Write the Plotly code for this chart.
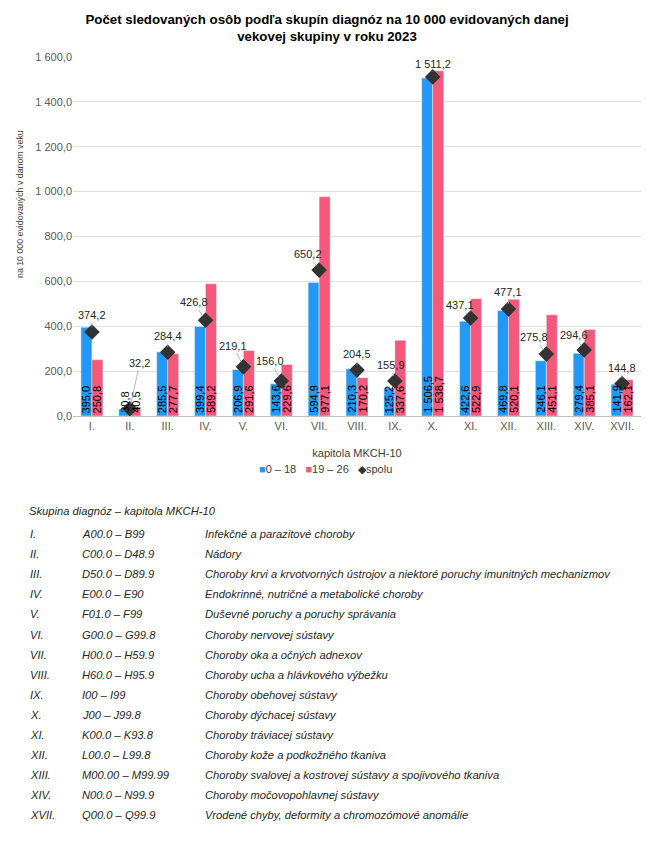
import plotly.graph_objects as go

categories = ["I.", "II.", "III.", "IV.", "V.", "VI.", "VII.", "VIII.", "IX.", "X.",
              "XI.", "XII.", "XIII.", "XIV.", "XVII."]
age_0_18 = [395.0, 30.8, 285.5, 399.4, 206.9, 143.6, 594.9, 210.3, 125.2, 1506.5,
            422.6, 469.8, 246.1, 279.4, 141.9]
age_19_26 = [250.8, 40.5, 277.7, 589.2, 291.6, 229.6, 977.1, 170.2, 337.6, 1538.7,
             522.9, 520.1, 451.1, 385.1, 162.1]
spolu = [374.2, 32.2, 284.4, 426.8, 219.1, 156.0, 650.2, 204.5, 155.9, 1511.2,
         437.1, 477.1, 275.8, 294.6, 144.8]
series_names = ["0 – 18", "19 – 26", "spolu"]

# label offsets (pixels) for "spolu" labels
label_dx = [0, 10, 0, -12, -10, -11, -11, 0, -4, 0, -11, 0, -12, -10, 0]
label_dy = [-17, -46, -16, -18, -21, -20, -16, -16, -16, -13, -13, -17, -17, -15, -16]

table_roman = ["I.", "II.", "III.", "IV.", "V.", "VI.", "VII.", "VIII.", "IX.", "X.",
               "XI.", "XII.", "XIII.", "XIV.", "XVII."]
table_codes = ["A00.0 – B99", "C00.0 – D48.9", "D50.0 – D89.9", "E00.0 – E90", "F01.0 – F99",
               "G00.0 – G99.8", "H00.0 – H59.9", "H60.0 – H95.9", "I00 – I99", "J00 – J99.8",
               "K00.0 – K93.8", "L00.0 – L99.8", "M00.00 – M99.99", "N00.0 – N99.9",
               "Q00.0 – Q99.9"]
table_desc = ["Infekčné a parazitové choroby",
              "Nádory",
              "Choroby krvi a krvotvorných ústrojov a niektoré poruchy imunitných mechanizmov",
              "Endokrinné, nutričné a metabolické choroby",
              "Duševné poruchy a poruchy správania",
              "Choroby nervovej sústavy",
              "Choroby oka a očných adnexov",
              "Choroby ucha a hlávkového výbežku",
              "Choroby obehovej sústavy",
              "Choroby dýchacej sústavy",
              "Choroby tráviacej sústavy",
              "Choroby kože a podkožného tkaniva",
              "Choroby svalovej a kostrovej sústavy a spojivového tkaniva",
              "Choroby močovopohlavnej sústavy",
              "Vrodené chyby, deformity a chromozómové anomálie"]
table_header = "Skupina diagnóz – kapitola MKCH-10"

BLUE = "#2299f6"
PINK = "#f4587a"
DARK = "#333333"
FONT = "Liberation Sans, Arial, sans-serif"

OFF = 8  # page body margin
W, H = 650 - OFF, 854 - OFF
L, R, T, B = 73 - OFF, 641 - OFF, 57 - OFF, 416 - OFF


def fmt(v):
    return f"{v:,.1f}".replace(",", " ").replace(".", ",")


fig = go.Figure()
fig.add_trace(go.Bar(name=series_names[0], x=categories, y=age_0_18, marker_color=BLUE))
fig.add_trace(go.Bar(name=series_names[1], x=categories, y=age_19_26, marker_color=PINK))
fig.add_trace(go.Scatter(
    name=series_names[2], x=categories, y=spolu, mode="markers",
    marker=dict(symbol="diamond", size=12, color=DARK),
))

# bar value labels, vertical, anchored at the base of each bar
for c, a, b in zip(categories, age_0_18, age_19_26):
    for v, shift in ((a, -5.5), (b, 5.5)):
        fig.add_annotation(
            x=c, y=0, text=fmt(v), textangle=-90, showarrow=False,
            xanchor="center", yanchor="bottom", xshift=shift, yshift=1,
            font=dict(family=FONT, size=11, color="#000000"),
        )

for c, v, dx, dy in zip(categories, spolu, label_dx, label_dy):
    fig.add_annotation(
        x=c, y=v, text=fmt(v),
        showarrow=True, arrowhead=0, arrowwidth=0.8, arrowcolor="#a6a6a6",
        standoff=5, ax=dx, ay=dy,
        font=dict(family=FONT, size=11, color="#262626"),
    )


def px_x(px):
    return (px - OFF - L) / (R - L)


def px_y(py):
    return (B - (py - OFF)) / (B - T)


# y-axis title
fig.add_annotation(
    xref="paper", yref="paper", x=px_x(20), y=px_y(204), xanchor="center", yanchor="middle",
    text="na 10 000 evidovaných v danom veku", textangle=-90, showarrow=False,
    font=dict(family=FONT, size=8.8, color="#404040"),
)

# compact legend
legend_text = (
    f"<span style='color:{BLUE}'>■</span>{series_names[0]}   "
    f"<span style='color:{PINK}'>■</span>{series_names[1]}   "
    f"<span style='color:{DARK}'>◆</span>{series_names[2]}"
)
fig.add_annotation(
    xref="paper", yref="paper", x=px_x(325), y=px_y(469), xanchor="center", yanchor="middle",
    text=legend_text, showarrow=False,
    font=dict(family=FONT, size=11, color="#404040"),
)

# table of diagnosis groups
fig.add_annotation(
    xref="paper", yref="paper", x=px_x(27), y=px_y(511), xanchor="left", yanchor="middle",
    text=table_header, showarrow=False,
    font=dict(family=FONT, size=11.2, color="#262626", style="italic"),
)
for i, (r, c, d) in enumerate(zip(table_roman, table_codes, table_desc)):
    yy = px_y(534 + i * 20.1)
    for xx, t in ((28, r), (80, c), (203, d)):
        fig.add_annotation(
            xref="paper", yref="paper", x=px_x(xx), y=yy, xanchor="left", yanchor="middle",
            text=t, showarrow=False,
            font=dict(family=FONT, size=11.2, color="#262626", style="italic"),
        )

fig.update_layout(
    width=W, height=H,
    margin=dict(l=L, r=W - R, t=T, b=H - B, autoexpand=False),
    paper_bgcolor="white", plot_bgcolor="white",
    separators=", ",
    showlegend=False,
    barmode="group", bargap=0.42, bargroupgap=0,
    title=dict(
        text="Počet sledovaných osôb podľa skupín diagnóz na 10 000 evidovaných danej<br>vekovej skupiny v roku 2023",
        x=(327 - OFF) / W, xanchor="center", xref="container", y=1 - 16 / H, yanchor="top", yref="container",
        font=dict(family=FONT, size=13.3, color="#000000", weight="bold"),
    ),
    font=dict(family=FONT, size=11, color="#595959"),
    xaxis=dict(
        title=dict(text="kapitola MKCH-10", font=dict(family=FONT, size=11, color="#404040"), standoff=18),
        range=[-0.5, len(categories) - 0.5],
        showline=True, linecolor="#bfbfbf", linewidth=1, ticks="",
        tickfont=dict(family=FONT, size=11, color="#595959"),
    ),
    yaxis=dict(
        range=[0, 1600], dtick=200, tickformat=",.1f",
        gridcolor="#e0e0e0", zeroline=False, showline=False,
        tickfont=dict(family=FONT, size=11, color="#595959"),
    ),
)

fig.write_html("out.html")
